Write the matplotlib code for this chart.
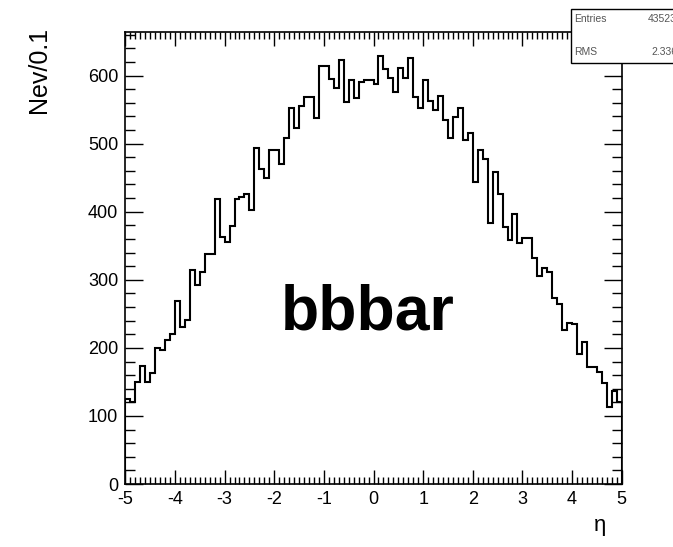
import numpy as np
import matplotlib
matplotlib.use("Agg")
import matplotlib.pyplot as plt
from matplotlib.ticker import MultipleLocator
from matplotlib.patches import Rectangle

plt.rcParams['font.family'] = ['Liberation Sans', 'DejaVu Sans']
plt.rcParams['axes.unicode_minus'] = False

# Pseudorapidity histogram: 100 bins of width 0.1 between -5 and 5
eta_min = -5.0
eta_max = 5.0
n_bins = 100
counts = [
    125, 121, 150, 174, 150, 163, 200, 197, 212, 220,
    269, 230, 241, 315, 293, 312, 338, 338, 418, 363,
    356, 379, 418, 421, 426, 402, 494, 463, 449, 491,
    491, 470, 508, 553, 523, 555, 568, 568, 538, 614,
    614, 595, 582, 623, 561, 594, 567, 590, 594, 594,
    587, 629, 610, 596, 576, 611, 597, 626, 569, 552,
    594, 562, 549, 570, 535, 508, 539, 553, 505, 515,
    444, 491, 478, 383, 459, 426, 377, 358, 397, 354,
    362, 362, 332, 306, 317, 311, 274, 265, 226, 237,
    235, 191, 208, 172, 172, 165, 148, 113, 136, 121,
]
x_ticks = [-5, -4, -3, -2, -1, 0, 1, 2, 3, 4, 5]
x_tick_labels = ["-5", "-4", "-3", "-2", "-1", "0", "1", "2", "3", "4", "5"]
y_ticks = [0, 100, 200, 300, 400, 500, 600]
y_tick_labels = ["0", "100", "200", "300", "400", "500", "600"]

sample_name = "bbbar"
x_title = "η"
y_title = "Nev/0.1"
stats_names = ["Entries", "RMS"]
stats_values = ["43523", "2.336"]

W, H = 673, 547
fig = plt.figure(figsize=(W / 100, H / 100), dpi=100)

# frame in pixel units
fl, fr, fb, ft = 125.3, 621.7, 484.1, 32.0
ax = fig.add_axes([fl / W, 1 - fb / H, (fr - fl) / W, (fb - ft) / H])

edges = np.linspace(eta_min, eta_max, n_bins + 1)
ax.stairs(counts, edges, color='black', linewidth=1.5)

ax.set_xlim(eta_min, eta_max)
ax.set_ylim(0, (fb - ft) / 0.681)

for s in ax.spines.values():
    s.set_linewidth(1.2)
    s.set_color('black')

ax.set_xticks(x_ticks)
ax.set_xticklabels(x_tick_labels)
ax.set_yticks(y_ticks)
ax.set_yticklabels(y_tick_labels)
ax.xaxis.set_minor_locator(MultipleLocator(0.1))
ax.yaxis.set_minor_locator(MultipleLocator(20))

ax.tick_params(axis='both', which='both', direction='in', top=True, right=True,
               width=1.0, color='black', labelsize=13, labelcolor='black')
ax.tick_params(axis='y', which='major', length=13, pad=5)
ax.tick_params(axis='y', which='minor', length=7)
ax.tick_params(axis='x', which='major', length=10, pad=5)
ax.tick_params(axis='x', which='minor', length=5)

fig.text(39 / W, 1 - 27 / H, y_title, rotation=90, ha='center', va='top',
         fontsize=18, color='black')
fig.text(600 / W, 1 - 525 / H, x_title, ha='center', va='center',
         fontsize=16, color='black')

fig.text(368 / W, 1 - 313 / H, sample_name, ha='center', va='center',
         fontsize=45, fontweight='bold', color='black')

# statistics box in the upper right corner
box = Rectangle((571 / W, 1 - 63 / H), 0.2, 54 / H, transform=fig.transFigure,
                facecolor='white', edgecolor='black', linewidth=1.0,
                zorder=10, clip_on=False)
fig.add_artist(box)
for i, (name, val) in enumerate(zip(stats_names, stats_values)):
    yy = 1 - (19 + 33 * i) / H
    fig.text(574 / W, yy, name, ha='left', va='center', fontsize=7.5,
             color='#555555', zorder=11)
    fig.text(677 / W, yy, val, ha='right', va='center', fontsize=7.5,
             color='#555555', zorder=11)

fig.savefig("out.png", dpi=100)
